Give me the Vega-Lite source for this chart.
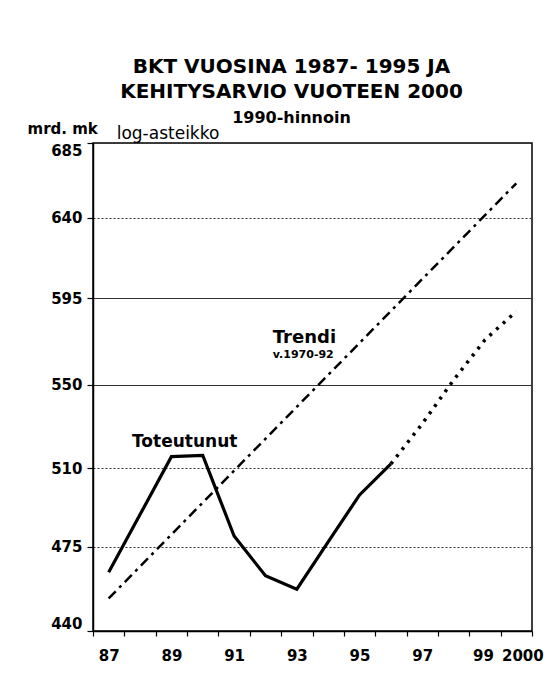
{
  "$schema": "https://vega.github.io/schema/vega-lite/v6.json",
  "width": 439,
  "height": 488,
  "autosize": "none",
  "padding": {"left": 93, "top": 143, "right": 25, "bottom": 50},
  "background": "white",
  "title": {
    "text": ["BKT VUOSINA 1987- 1995 JA", "KEHITYSARVIO VUOTEEN 2000"],
    "subtitle": "1990-hinnoin",
    "font": "DejaVu Sans",
    "fontSize": 20,
    "fontWeight": "bold",
    "lineHeight": 25,
    "color": "#000",
    "subtitleFont": "DejaVu Sans",
    "subtitleFontSize": 16,
    "subtitleFontWeight": "bold",
    "subtitleColor": "#000",
    "subtitlePadding": 8,
    "anchor": "middle",
    "dx": -21,
    "offset": -5
  },
  "config": {
    "view": {"stroke": "#000", "strokeWidth": 1.5},
    "font": "DejaVu Sans"
  },
  "datasets": {
    "gdp": [
      {"year": "87", "value": 464.1, "series": "Toteutunut"},
      {"year": "88", "value": 489.0, "series": "Toteutunut"},
      {"year": "89", "value": 515.4, "series": "Toteutunut"},
      {"year": "90", "value": 516.0, "series": "Toteutunut"},
      {"year": "91", "value": 479.6, "series": "Toteutunut"},
      {"year": "92", "value": 462.6, "series": "Toteutunut"},
      {"year": "93", "value": 457.0, "series": "Toteutunut"},
      {"year": "94", "value": 477.0, "series": "Toteutunut"},
      {"year": "95", "value": 497.8, "series": "Toteutunut"},
      {"year": "96", "value": 512.0, "series": "Toteutunut"},
      {"year": "96", "value": 512.0, "series": "Ennuste"},
      {"year": "97", "value": 531.0, "series": "Ennuste"},
      {"year": "98", "value": 552.5, "series": "Ennuste"},
      {"year": "99", "value": 573.0, "series": "Ennuste"},
      {"year": "2000", "value": 588.0, "series": "Ennuste"},
      {"year": "87", "value": 453.2, "series": "Trendi"},
      {"year": "2000", "value": 660.4, "series": "Trendi"}
    ],
    "notes": [
      {"label": "Toteutunut", "year": "88", "value": 520.0},
      {"label": "Trendi", "year": "93", "value": 571.3},
      {"label": "v.1970-92", "year": "93", "value": 563.6},
      {"label": "log-asteikko", "year": "87", "value": 685}
    ]
  },
  "encoding": {
    "x": {
      "field": "year",
      "type": "ordinal",
      "bandPosition": 0.5,
      "scale": {
        "type": "band",
        "domain": ["87", "88", "89", "90", "91", "92", "93", "94", "95", "96", "97", "98", "99", "2000"],
        "paddingInner": 0,
        "paddingOuter": 0
      },
      "axis": {
        "title": null,
        "tickBand": "extent",
        "labelAngle": 0,
        "labelOverlap": false,
        "labelExpr": "indexof(['87','89','91','93','95','97','99','2000'], datum.value) >= 0 ? datum.value : ''",
        "labelOffset": {"condition": [{"test": "datum.value == '2000'", "value": 6}, {"test": "datum.value == '99'", "value": -2}], "value": 0},
        "labelFont": "DejaVu Sans",
        "labelFontSize": 15,
        "labelFontWeight": "bold",
        "labelColor": "#000",
        "labelPadding": 12,
        "tickSize": 5,
        "tickColor": "#000",
        "tickWidth": 1.2,
        "domainColor": "#000",
        "domainWidth": 1.5,
        "grid": false
      }
    },
    "y": {
      "field": "value",
      "type": "quantitative",
      "scale": {"type": "log", "domain": [440, 685], "nice": false, "zero": false},
      "axis": {
        "title": "mrd. mk",
        "titleAngle": 0,
        "titleAlign": "left",
        "titleBaseline": "alphabetic",
        "titleX": -66,
        "titleY": -10,
        "titleFont": "DejaVu Sans",
        "titleFontSize": 15,
        "titleFontWeight": "bold",
        "titleColor": "#000",
        "values": [440, 475, 510, 550, 595, 640, 685],
        "format": "d",
        "labelFlush": true,
        "labelFont": "DejaVu Sans",
        "labelFontSize": 15,
        "labelFontWeight": "bold",
        "labelColor": "#000",
        "labelPadding": 5,
        "tickSize": 6,
        "tickColor": "#000",
        "tickWidth": 1.2,
        "domainColor": "#000",
        "domainWidth": 1.5,
        "grid": true,
        "gridColor": "#333",
        "gridWidth": 1,
        "gridDash": {"condition": {"test": "datum.value == 595 || datum.value == 550", "value": []}, "value": [2, 2]}
      }
    }
  },
  "layer": [
    {
      "data": {"name": "gdp"},
      "transform": [{"filter": "datum.series == 'Trendi'"}],
      "mark": {"type": "line", "color": "#000", "strokeWidth": 2.5, "strokeDash": [10, 5, 3, 5]}
    },
    {
      "data": {"name": "gdp"},
      "transform": [{"filter": "datum.series == 'Ennuste'"}],
      "mark": {"type": "line", "color": "#000", "strokeWidth": 3.5, "strokeDash": [3, 6]}
    },
    {
      "data": {"name": "gdp"},
      "transform": [{"filter": "datum.series == 'Toteutunut'"}],
      "mark": {"type": "line", "color": "#000", "strokeWidth": 3.2, "strokeJoin": "miter"}
    },
    {
      "data": {"name": "notes"},
      "transform": [{"filter": "datum.label == 'Toteutunut'"}],
      "mark": {"type": "text", "align": "left", "baseline": "alphabetic", "dx": -8, "font": "DejaVu Sans", "fontSize": 17, "fontWeight": "bold", "color": "#000"},
      "encoding": {"text": {"field": "label"}}
    },
    {
      "data": {"name": "notes"},
      "transform": [{"filter": "datum.label == 'Trendi'"}],
      "mark": {"type": "text", "align": "left", "baseline": "alphabetic", "dx": -24, "font": "DejaVu Sans", "fontSize": 18, "fontWeight": "bold", "color": "#000"},
      "encoding": {"text": {"field": "label"}}
    },
    {
      "data": {"name": "notes"},
      "transform": [{"filter": "datum.label == 'v.1970-92'"}],
      "mark": {"type": "text", "align": "left", "baseline": "alphabetic", "dx": -24, "font": "DejaVu Sans", "fontSize": 11, "fontWeight": "bold", "color": "#000"},
      "encoding": {"text": {"field": "label"}}
    },
    {
      "data": {"name": "notes"},
      "transform": [{"filter": "datum.label == 'log-asteikko'"}],
      "mark": {"type": "text", "align": "left", "baseline": "alphabetic", "dx": 8, "dy": -4, "font": "DejaVu Sans", "fontSize": 17, "color": "#000", "clip": false},
      "encoding": {"text": {"field": "label"}}
    }
  ]
}
